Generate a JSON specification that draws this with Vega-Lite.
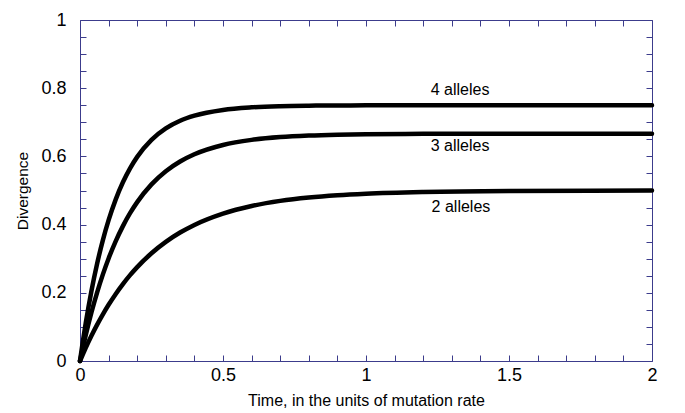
{
  "$schema": "https://vega.github.io/schema/vega-lite/v6.json",
  "width": 572,
  "height": 341,
  "autosize": {"type": "none"},
  "padding": {"left": 80, "top": 20, "right": 33, "bottom": 52},
  "background": "white",
  "config": {
    "view": {"stroke": null},
    "axis": {
      "grid": false,
      "domainColor": "#3c3c8c",
      "tickColor": "#3c3c8c",
      "tickSize": -6,
      "labelFont": "Liberation Sans",
      "titleFont": "Liberation Sans",
      "labelColor": "#000",
      "titleColor": "#000",
      "labelFlush": false,
      "labelOverlap": false,
      "titleFontWeight": "normal"
    }
  },
  "datasets": {
    "curves": [
      {"t": 0, "d": 0, "alleles": 2}, {"t": 0.01, "d": 0.0196, "alleles": 2}, {"t": 0.02, "d": 0.0384, "alleles": 2}, {"t": 0.04, "d": 0.0739, "alleles": 2}, {"t": 0.06, "d": 0.1067, "alleles": 2}, {"t": 0.08, "d": 0.1369, "alleles": 2}, {"t": 0.1, "d": 0.1648, "alleles": 2}, {"t": 0.125, "d": 0.1967, "alleles": 2}, {"t": 0.15, "d": 0.2256, "alleles": 2}, {"t": 0.175, "d": 0.2517, "alleles": 2}, {"t": 0.2, "d": 0.2753, "alleles": 2}, {"t": 0.25, "d": 0.3161, "alleles": 2}, {"t": 0.3, "d": 0.3494, "alleles": 2}, {"t": 0.35, "d": 0.3767, "alleles": 2}, {"t": 0.4, "d": 0.3991, "alleles": 2}, {"t": 0.5, "d": 0.4323, "alleles": 2}, {"t": 0.6, "d": 0.4546, "alleles": 2}, {"t": 0.7, "d": 0.4696, "alleles": 2}, {"t": 0.8, "d": 0.4796, "alleles": 2}, {"t": 0.9, "d": 0.4863, "alleles": 2}, {"t": 1.0, "d": 0.4908, "alleles": 2}, {"t": 1.2, "d": 0.4959, "alleles": 2}, {"t": 1.5, "d": 0.4988, "alleles": 2}, {"t": 2.0, "d": 0.4998, "alleles": 2},
      {"t": 0, "d": 0, "alleles": 3}, {"t": 0.01, "d": 0.0388, "alleles": 3}, {"t": 0.02, "d": 0.0754, "alleles": 3}, {"t": 0.04, "d": 0.1423, "alleles": 3}, {"t": 0.06, "d": 0.2015, "alleles": 3}, {"t": 0.08, "d": 0.2541, "alleles": 3}, {"t": 0.1, "d": 0.3008, "alleles": 3}, {"t": 0.125, "d": 0.3517, "alleles": 3}, {"t": 0.15, "d": 0.3956, "alleles": 3}, {"t": 0.175, "d": 0.4334, "alleles": 3}, {"t": 0.2, "d": 0.4659, "alleles": 3}, {"t": 0.25, "d": 0.5179, "alleles": 3}, {"t": 0.3, "d": 0.5565, "alleles": 3}, {"t": 0.35, "d": 0.585, "alleles": 3}, {"t": 0.4, "d": 0.6062, "alleles": 3}, {"t": 0.5, "d": 0.6335, "alleles": 3}, {"t": 0.6, "d": 0.6485, "alleles": 3}, {"t": 0.7, "d": 0.6567, "alleles": 3}, {"t": 0.8, "d": 0.6612, "alleles": 3}, {"t": 0.9, "d": 0.6637, "alleles": 3}, {"t": 1.0, "d": 0.665, "alleles": 3}, {"t": 1.2, "d": 0.6662, "alleles": 3}, {"t": 1.5, "d": 0.6666, "alleles": 3}, {"t": 2.0, "d": 0.6667, "alleles": 3},
      {"t": 0, "d": 0, "alleles": 4}, {"t": 0.01, "d": 0.0577, "alleles": 4}, {"t": 0.02, "d": 0.1109, "alleles": 4}, {"t": 0.04, "d": 0.2054, "alleles": 4}, {"t": 0.06, "d": 0.2859, "alleles": 4}, {"t": 0.08, "d": 0.3545, "alleles": 4}, {"t": 0.1, "d": 0.413, "alleles": 4}, {"t": 0.125, "d": 0.4741, "alleles": 4}, {"t": 0.15, "d": 0.5241, "alleles": 4}, {"t": 0.175, "d": 0.565, "alleles": 4}, {"t": 0.2, "d": 0.5986, "alleles": 4}, {"t": 0.25, "d": 0.6485, "alleles": 4}, {"t": 0.3, "d": 0.682, "alleles": 4}, {"t": 0.35, "d": 0.7044, "alleles": 4}, {"t": 0.4, "d": 0.7194, "alleles": 4}, {"t": 0.5, "d": 0.7363, "alleles": 4}, {"t": 0.6, "d": 0.7438, "alleles": 4}, {"t": 0.7, "d": 0.7472, "alleles": 4}, {"t": 0.8, "d": 0.7487, "alleles": 4}, {"t": 0.9, "d": 0.7494, "alleles": 4}, {"t": 1.0, "d": 0.7497, "alleles": 4}, {"t": 1.2, "d": 0.7499, "alleles": 4}, {"t": 1.5, "d": 0.75, "alleles": 4}, {"t": 2.0, "d": 0.75, "alleles": 4}
    ],
    "labels": [
      {"t": 1.329, "d": 0.795, "label": "4 alleles"},
      {"t": 1.329, "d": 0.63, "label": "3 alleles"},
      {"t": 1.332, "d": 0.452, "label": "2 alleles"}
    ]
  },
  "layer": [
    {
      "data": {"name": "curves"},
      "mark": {"type": "line", "color": "black", "strokeWidth": 4.5, "strokeCap": "round", "interpolate": "monotone"},
      "encoding": {
        "x": {
          "field": "t", "type": "quantitative",
          "scale": {"domain": [0, 2], "nice": false, "zero": true},
          "axis": {
            "orient": "bottom",
            "values": [0, 0.1, 0.2, 0.3, 0.4, 0.5, 0.6, 0.7, 0.8, 0.9, 1, 1.1, 1.2, 1.3, 1.4, 1.5, 1.6, 1.7, 1.8, 1.9, 2],
            "format": "~g",
            "labelExpr": "indexof(['0','0.5','1','1.5','2'], datum.label) >= 0 ? datum.label : ''",
            "labelFontSize": 18,
            "labelPadding": 11,
            "title": "Time, in the units of mutation rate",
            "titleFontSize": 16,
            "titleX": 286,
            "titleY": 39,
            "titleBaseline": "middle"
          }
        },
        "y": {
          "field": "d", "type": "quantitative",
          "scale": {"domain": [0, 1], "nice": false},
          "axis": {
            "orient": "left",
            "values": [0, 0.05, 0.1, 0.15, 0.2, 0.25, 0.3, 0.35, 0.4, 0.45, 0.5, 0.55, 0.6, 0.65, 0.7, 0.75, 0.8, 0.85, 0.9, 0.95, 1],
            "format": "~g",
            "labelExpr": "indexof(['0','0.2','0.4','0.6','0.8','1'], datum.label) >= 0 ? datum.label : ''",
            "labelFontSize": 18,
            "labelPadding": 20,
            "title": "Divergence",
            "titleFontSize": 15.5,
            "titleX": -58,
            "titleY": 170.5,
            "titleBaseline": "middle"
          }
        },
        "detail": {"field": "alleles", "type": "nominal"}
      }
    },
    {
      "data": {"name": "labels"},
      "mark": {"type": "text", "fontSize": 16, "font": "Liberation Sans", "color": "black", "baseline": "middle", "align": "center"},
      "encoding": {
        "x": {
          "field": "t", "type": "quantitative",
          "scale": {"domain": [0, 2], "nice": false, "zero": true},
          "axis": {
            "orient": "top",
            "values": [0, 0.1, 0.2, 0.3, 0.4, 0.5, 0.6, 0.7, 0.8, 0.9, 1, 1.1, 1.2, 1.3, 1.4, 1.5, 1.6, 1.7, 1.8, 1.9, 2],
            "labels": false,
            "title": null
          }
        },
        "y": {
          "field": "d", "type": "quantitative",
          "scale": {"domain": [0, 1], "nice": false},
          "axis": {
            "orient": "right",
            "values": [0, 0.05, 0.1, 0.15, 0.2, 0.25, 0.3, 0.35, 0.4, 0.45, 0.5, 0.55, 0.6, 0.65, 0.7, 0.75, 0.8, 0.85, 0.9, 0.95, 1],
            "labels": false,
            "title": null
          }
        },
        "text": {"field": "label"}
      }
    }
  ],
  "resolve": {"axis": {"x": "independent", "y": "independent"}}
}
